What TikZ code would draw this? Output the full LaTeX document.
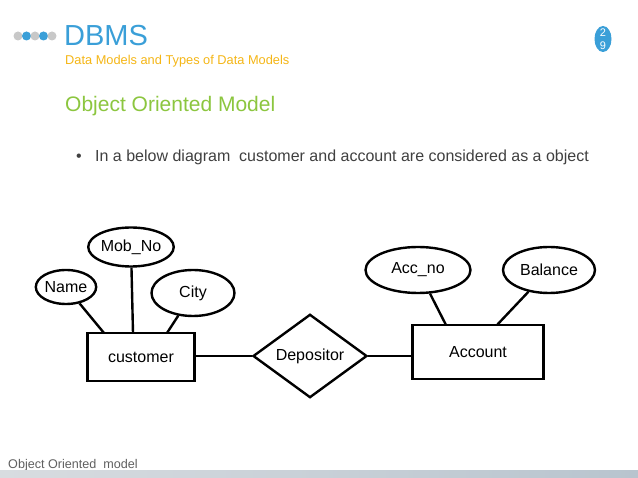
\documentclass[tikz,border=0pt]{standalone}
\usepackage{fontspec}
\setmainfont{Liberation Sans}
\usetikzlibrary{shapes.geometric}
\definecolor{dbblue}{HTML}{3A9FD8}
\definecolor{subor}{HTML}{F5B616}
\definecolor{ttlgreen}{HTML}{8CC63F}
\definecolor{txtgray}{HTML}{404040}
\definecolor{dotgray}{HTML}{C8C8C8}
\definecolor{footgray}{HTML}{606060}
\definecolor{barA}{HTML}{D8DCE0}
\definecolor{barB}{HTML}{B8C4CE}
\begin{document}
\begin{tikzpicture}[x=1pt,y=-1pt,
  attr/.style={ellipse,draw,line width=2.4pt,inner sep=0pt,font=\fontsize{16}{16}\selectfont},
  ent/.style={rectangle,draw,line width=2.4pt,inner sep=0pt,font=\fontsize{16}{16}\selectfont},
  rel/.style={diamond,draw,line width=2.4pt,inner sep=0pt,font=\fontsize{16}{16}\selectfont},
  link/.style={line width=2.4pt}]
\useasboundingbox[fill=white] (0,0) rectangle (638,478);
% header dots
\fill[dotgray] (18,36) circle (4.5);
\fill[dbblue] (26.5,36) circle (4.5);
\fill[dotgray] (35,36) circle (4.5);
\fill[dbblue] (43.5,36) circle (4.5);
\fill[dotgray] (52,36) circle (4.5);
\node[anchor=base west,inner sep=0pt,text=dbblue,font=\fontsize{29}{29}\selectfont] (dbms) at (64,46) {DBMS};
\node[anchor=base west,inner sep=0pt,text=subor,font=\fontsize{12.8}{12.8}\selectfont] (sub) at (65,65) {Data Models and Types of Data Models};
% page number
\fill[dbblue] (603,39) ellipse (8.5 and 13);
\node[text=white,font=\fontsize{11}{11}\selectfont,inner sep=0pt] (p2) at (603,33) {2};
\node[text=white,font=\fontsize{11}{11}\selectfont,inner sep=0pt] (p9) at (603,46) {9};
% title
\node[anchor=base west,inner sep=0pt,text=ttlgreen,font=\fontsize{21}{21}\selectfont] (ttl) at (65,112) {Object Oriented Model};
\node[anchor=base west,inner sep=0pt,text=txtgray,font=\fontsize{16}{16}\selectfont] (bul) at (76,162) {•};
\node[anchor=base west,inner sep=0pt,text=txtgray,font=\fontsize{16}{16}\selectfont] (btxt) at (95,162) {In a below diagram\ \ customer and account are considered as a object};
% ER diagram
\node[attr,minimum width=58,minimum height=34] (name) at (66,287) {Name};
\node[attr,minimum width=78,minimum height=39] (mob) at (131,247) {Mob\_No};
\node[attr,minimum width=83,minimum height=46] (city) at (193,293) {City};
\node[ent,minimum width=107,minimum height=48] (cust) at (141,357) {customer};
\node[rel,minimum width=114,minimum height=75] (dep) at (310,356) {Depositor};
\node[ent,minimum width=131,minimum height=54] (acc) at (478,352) {Account};
\node[attr,minimum width=105,minimum height=46] (accno) at (418,270) {Acc\_no};
\node[attr,minimum width=92,minimum height=46] (bal) at (549,270) {Balance};
\coordinate (cName) at (104,333);
\coordinate (cMob) at (133,333);
\coordinate (cCity) at (167,333);
\coordinate (aAcc) at (446,325);
\coordinate (aBal) at (497,325);
\draw[link] (name) -- (cName);
\draw[link] (mob) -- (cMob);
\draw[link] (city) -- (cCity);
\draw[link] (cust.east |- dep.west) -- (dep.west);
\draw[link] (dep.east) -- (dep.east -| acc.west);
\draw[link] (accno) -- (aAcc);
\draw[link] (bal) -- (aBal);
% footer
\node[anchor=base west,inner sep=0pt,text=footgray,font=\fontsize{12.6}{12.6}\selectfont] (foot) at (8,469) {Object Oriented\ \ model};
\shade[left color=barA,right color=barB] (0,471) rectangle (638,478);
\end{tikzpicture}
\end{document}
